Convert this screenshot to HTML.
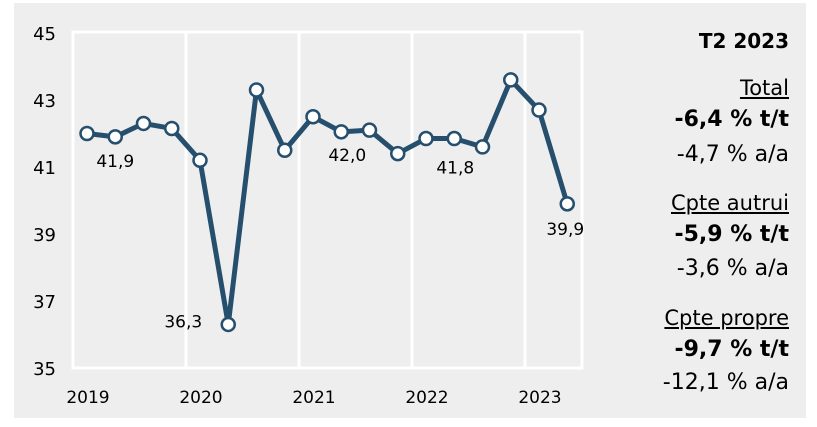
<!DOCTYPE html>
<html><head><meta charset="utf-8"><style>
body{margin:0;width:817px;height:427px;background:#fff;font-family:"DejaVu Sans","Liberation Sans",sans-serif;overflow:hidden}
svg{position:absolute;left:0;top:0;font-family:"DejaVu Sans","Liberation Sans",sans-serif}
.r{position:absolute;right:28px;text-align:right;font-size:22px;color:#000;white-space:nowrap;line-height:26px}
.b{font-weight:bold}.u{text-decoration:underline;text-underline-offset:2px}
</style></head><body>
<svg width="817" height="427">
<rect x="14" y="3" width="792" height="415" fill="#eeeeee"/>
<rect x="73" y="32" width="509" height="336" fill="none" stroke="#fff" stroke-width="3"/>
<g id="g"></g>
</svg>
<div class="r b" style="top:28px;font-size:20px">T2 2023</div>
<div class="r u" style="top:75px;font-size:21px">Total</div>
<div class="r b" style="top:107px">-6,4 % t/t</div>
<div class="r" style="top:142px">-4,7 % a/a</div>
<div class="r u" style="top:190px;font-size:21px">Cpte autrui</div>
<div class="r b" style="top:222px">-5,9 % t/t</div>
<div class="r" style="top:256px">-3,6 % a/a</div>
<div class="r u" style="top:305px;font-size:21px">Cpte propre</div>
<div class="r b" style="top:337px">-9,7 % t/t</div>
<div class="r" style="top:370px">-12,1 % a/a</div>
<script>
const values=[42.0,41.9,42.3,42.15,41.2,36.3,43.3,41.5,42.5,42.05,42.1,41.4,41.85,41.85,41.6,43.6,42.7,39.9];
const yTicks=[35,37,39,41,43,45];
const years=["2019","2020","2021","2022","2023"];
const labels=[[1,"41,9",0,30],[5,"36,3",-45,3],[9,"42,0",6,29],[13,"41,8",1,35],[17,"39,9",-2,31]];
const NS="http://www.w3.org/2000/svg",g=document.getElementById('g');
const x=i=>87+i*28.25, y=v=>368-(v-35)*33.5;
function mk(t,a){const e=document.createElementNS(NS,t);for(const k in a)e.setAttribute(k,a[k]);g.appendChild(e);return e;}
for(let k=1;k<years.length;k++){
 const e=mk('line',{x1:x(4*k)-14,x2:x(4*k)-14,y1:32,y2:368,stroke:'#fff','stroke-width':3});
 
 
}
yTicks.forEach(v=>{const e=mk('text',{x:56,y:y(v)+7,'text-anchor':'end','font-size':18,fill:'#000'});e.textContent=v;
 
 });
years.forEach((s,k)=>{const e=mk('text',{x:x(4*k)+1,y:403,'text-anchor':'middle','font-size':17,fill:'#000'});e.textContent=s;
 
 });
const ln=mk('polyline',{points:values.map((v,i)=>x(i)+','+y(v)).join(' '),fill:'none',stroke:'#264f6e','stroke-width':5,'stroke-linejoin':'round'});


values.forEach((v,i)=>{const c=mk('circle',{cx:x(i),cy:y(v),r:6.5,fill:'#fff',stroke:'#264f6e','stroke-width':2.5});
 
 });
labels.forEach(([i,t,dx,dy])=>{const e=mk('text',{x:x(i)+dx,y:y(values[i])+dy,'text-anchor':'middle','font-size':17,fill:'#000'});e.textContent=t;
 
 });
</script>
</body></html>
